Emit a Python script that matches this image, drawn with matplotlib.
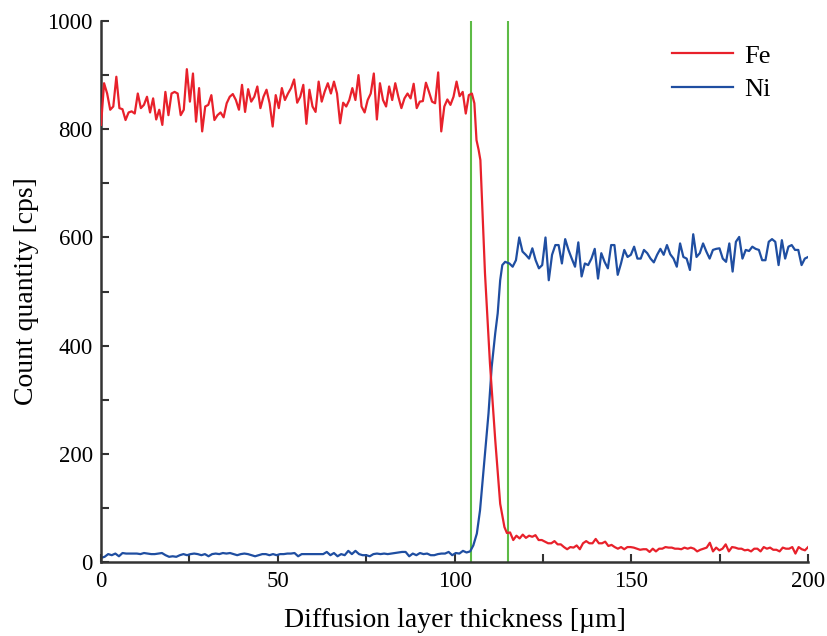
import numpy as np
import matplotlib.pyplot as plt
from matplotlib.ticker import MultipleLocator

plt.rcParams['font.family'] = ['Liberation Serif', 'DejaVu Serif']

# Fe counts, plateau 0 - 104.9 um
fe_plateau = [808, 885, 866, 836, 842, 897, 839, 837, 817, 831, 833, 829, 866, 839, 845, 860, 831, 857, 818, 836,
              808, 869, 826, 866, 869, 866, 826, 836, 911, 851, 903, 814, 876, 796, 842, 845, 863, 817, 826,
              831, 822, 848, 860, 865, 854, 836, 882, 832, 874, 851, 860, 879, 839, 860, 873, 848, 805, 863, 839,
              876, 854, 866, 876, 892, 849, 860, 882, 810, 873, 842, 832, 888, 851, 870, 885, 866,
              888, 866, 811, 849, 842, 854, 876, 854, 900, 842, 831, 854, 866, 903, 818, 885, 854, 842, 879, 854,
              885, 860, 839, 857, 866, 857, 884, 839, 851, 852, 886, 869, 851, 848, 905, 796, 842, 855, 845, 860,
              888, 861, 869, 829, 863, 866]
# Fe drop across the interface
fe_drop_x = [105.6, 106.2, 106.8, 107.3, 108.6, 110.0, 111.5, 112.9, 114.1, 114.8]
fe_drop = [848, 780, 762, 743, 534, 368, 226, 108, 65, 54]
# Fe tail 115.7 - 200 um
fe_tail = [55, 41, 49, 44, 51, 45, 49, 47, 50, 41, 41, 38, 35, 35, 39, 33, 33, 28, 24, 28,
           27, 31, 24, 35, 39, 35, 35, 43, 35, 35, 38, 30, 32, 28, 25, 28, 24, 28, 28, 27,
           25, 23, 24, 24, 19, 25, 20, 25,
           25, 28, 27, 27, 25, 25, 24, 27, 25, 27, 25, 20, 23, 25, 27, 36, 20, 27, 22, 25,
           33, 20, 28, 27, 25, 25, 22, 23, 20, 25, 25, 20, 28, 25, 27, 23, 23, 20, 27, 25,
           25, 28, 16, 28, 24, 22, 28]

# Ni counts, low level 0 - 104.4 um
ni_low = [8, 10, 15, 13, 16, 11, 17, 16, 16, 16, 16, 15, 17, 16, 15, 15, 16, 17, 13, 10,
          11, 10, 13, 15, 13, 15, 16, 15, 13, 15, 11, 15, 16, 15, 17, 16, 17, 15, 13, 15,
          16, 15, 13, 11, 13, 15, 15, 13, 15, 13, 15, 15, 16, 16,
          17, 11, 15, 15, 15, 15, 15, 15, 15, 19, 13, 17, 11, 15, 13, 21, 15, 21, 15, 13,
          13, 11, 15, 16, 15, 16, 15, 16, 17, 18, 19, 19, 11, 16, 13, 17, 15, 16, 13, 13,
          15, 16, 16, 19, 13, 17, 16, 21, 18, 20]
# Ni rise across the interface
ni_rise_x = [105.3, 106.3, 107.2, 108.6, 109.6, 110.5, 111.5, 112.2, 112.9, 113.5, 114.3]
ni_rise = [31, 53, 96, 201, 275, 361, 423, 460, 521, 549, 555]
# Ni plateau 115.5 - 200 um
ni_plateau = [552, 546, 558, 600, 574, 568, 561, 580, 558, 543, 549, 600, 521, 568, 586, 586, 552, 597, 577, 561,
              546, 591, 528, 552, 549, 561, 579, 524, 571, 555, 543, 586, 586, 531, 552, 577, 564, 568, 583, 561,
              561, 577, 571, 561, 554, 568,
              579, 568, 586, 569, 561, 546, 589, 564, 561, 540, 606, 564, 571, 589, 574, 561, 577, 579, 580, 561,
              555, 589, 537, 592, 601, 561, 577, 575, 583, 579, 577, 558, 558, 592, 597, 592, 549, 595, 561, 583,
              586, 577, 577, 549, 561, 564]

interface = [104.7, 115.0]

fe_x = np.concatenate([np.linspace(0, 104.9, len(fe_plateau)), fe_drop_x,
                       np.linspace(115.7, 200, len(fe_tail))])
fe = np.concatenate([fe_plateau, fe_drop, fe_tail])
ni_x = np.concatenate([np.linspace(0, 104.4, len(ni_low)), ni_rise_x,
                       np.linspace(115.5, 200, len(ni_plateau))])
ni = np.concatenate([ni_low, ni_rise, ni_plateau])

fig = plt.figure(figsize=(8.28, 6.36), dpi=100)
ax = fig.add_axes([0.122, 0.116, 0.854, 0.851])

for xv in interface:
    ax.axvline(xv, color='#5dbb46', lw=1.5, zorder=1)
ax.plot(fe_x, fe, color='#e8212b', lw=1.6, label='Fe', zorder=3)
ax.plot(ni_x, ni, color='#1f4ea1', lw=1.6, label='Ni', zorder=2)

ax.set_xlim(0, 200)
ax.set_ylim(0, 1000)
ax.xaxis.set_major_locator(MultipleLocator(50))
ax.xaxis.set_minor_locator(MultipleLocator(25))
ax.yaxis.set_major_locator(MultipleLocator(200))
ax.yaxis.set_minor_locator(MultipleLocator(100))
ax.tick_params(which='both', direction='in', length=6, width=1.5, color='#333333',
               labelsize=16.5, pad=6)
for side in ['top', 'right']:
    ax.spines[side].set_visible(False)
for side in ['left', 'bottom']:
    ax.spines[side].set_linewidth(1.8)
    ax.spines[side].set_color('#333333')

ax.set_xlabel('Diffusion layer thickness [µm]', fontsize=20, labelpad=12)
ax.set_ylabel('Count quantity [cps]', fontsize=20, labelpad=6)
ax.legend(loc='upper left', bbox_to_anchor=(0.774, 1.001), frameon=False, fontsize=19,
          handlelength=2.3, handletextpad=0.45, labelspacing=0.38)

fig.savefig('out.png', dpi=100)
